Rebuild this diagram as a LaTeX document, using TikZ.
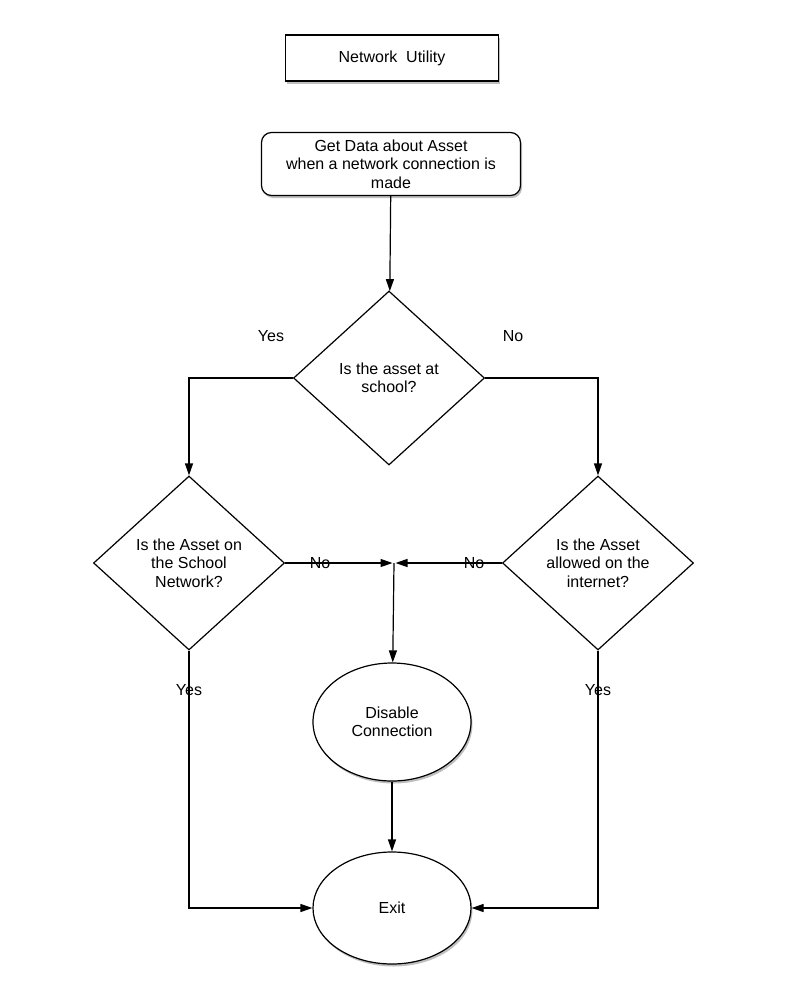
\documentclass[tikz,border=0pt]{standalone}
\usepackage{fontspec}
\setmainfont{Liberation Sans}
\usetikzlibrary{positioning,arrows.meta,shapes.geometric,shadows}

\begin{document}
\begin{tikzpicture}[x=1pt,y=-1pt,
  font=\fontsize{16}{18.5}\selectfont,
  box/.style={draw,line width=1.2pt,fill=white,align=center},
  shade/.style={drop shadow={opacity=.5,shadow xshift=1.5pt,shadow yshift=-2.5pt}},
  decision/.style={draw,diamond,aspect=1.1,inner sep=0pt,line width=1.2pt,fill=white,align=center,minimum width=191pt,minimum height=174pt},
  terminal/.style={draw,ellipse,line width=1.2pt,fill=white,align=center,minimum width=158pt,inner sep=0pt},
  flow/.style={line width=1.2pt,-{Triangle[length=12pt,width=8pt]}}]
\useasboundingbox (0,0) rectangle (785,999);
% --- top: title and input ---
\node[box,shade,minimum width=213pt,minimum height=46pt] (title) at (392,58) {Network\ \ Utility};
\node[box,shade,rounded corners=10pt,minimum width=259pt,minimum height=63pt,inner sep=2pt] (getdata) at (391,164) {Get Data about Asset\\when a network connection is\\made};
% --- decisions ---
\node[decision] (atschool) at (389,378) {Is the asset at\\school?};
\node[decision] (onnet) at (189,563) {Is the Asset on\\the School\\Network?};
\node[decision] (allowed) at (598,563) {Is the Asset\\allowed on the\\internet?};
\coordinate (join) at (394,563);
% --- outcomes ---
\node[terminal,shade,minimum height=118pt] (disable) at (392,722) {Disable\\Connection};
\node[terminal,shade,minimum height=112pt] (exit) at (392,908) {Exit};
% --- connectors ---
\draw[flow] (getdata) -- (atschool);
\draw[flow] (atschool.west) -| (onnet.north);
\draw[flow] (atschool.east) -| (allowed.north);
\draw[flow] (onnet.east) -- ([xshift=-1.5pt]join);
\draw[flow] (allowed.west) -- ([xshift=1.5pt]join);
\draw[flow] (join) -- (disable);
\draw[flow] (disable) -- (exit);
\draw[flow] (onnet.south) |- (exit.west);
\draw[flow] (allowed.south) |- (exit.east);
% --- branch labels ---
\node (yesschool) at (271,336) {Yes};
\node (noschool) at (513,336) {No};
\node (nonet) at (320,563) {No};
\node (noallowed) at (474,563) {No};
\node (yesnet) at (189,690) {Yes};
\node (yesallowed) at (598,690) {Yes};
\end{tikzpicture}
\end{document}
